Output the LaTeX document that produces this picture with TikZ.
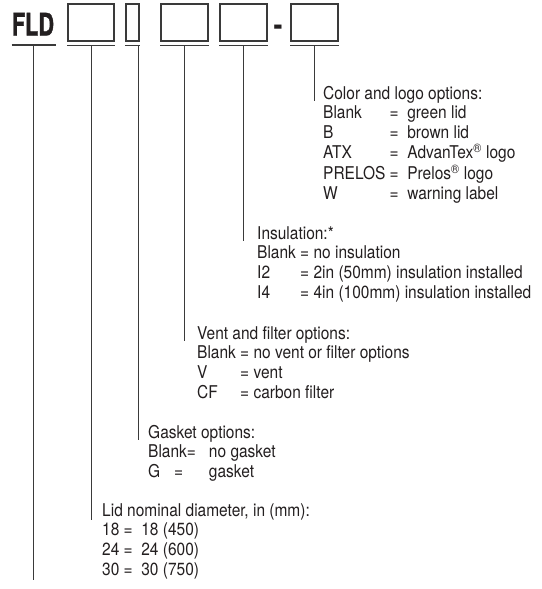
\documentclass[tikz,border=0pt]{standalone}
\usepackage{fontspec}
\setmainfont[FakeStretch=0.88]{TeX Gyre Heros}
\newfontfamily\fldfont[FakeStretch=0.7,BoldFeatures={FakeBold=1.2}]{TeX Gyre Heros}
\usetikzlibrary{positioning,calc}
\definecolor{Ink}{HTML}{231F20}
\definecolor{Rule}{HTML}{3A3A3A}

\begin{document}
\begin{tikzpicture}[x=1pt,y=-1pt,
  slot/.style={draw=Rule,line width=1.1pt,minimum height=37pt,inner sep=0pt},
  under/.style={draw=Rule,line width=1.3pt},
  lead/.style={draw=Rule,line width=1pt},
  legend/.style={anchor=base west,inner sep=0pt,text=Ink,font=\fontsize{17.6}{19.7}\selectfont},
  modelcode/.style={anchor=base,inner sep=0pt,text=Ink,font=\fldfont\fontsize{31}{31}\bfseries}
]
\useasboundingbox (0,0) rectangle (541,589);

\node[modelcode] (fld) at (33,35.5) {FLD};
\node[slot,minimum width=46pt] (b1) at (91,22.5) {};
\node[slot,minimum width=13pt] (b2) at (132.5,22.5) {};
\node[slot,minimum width=47pt] (b3) at (184.5,22.5) {};
\node[slot,minimum width=47pt] (b4) at (243.5,22.5) {};
\node[modelcode,font=\fontsize{30.5}{30.5}\bfseries] (dash) at (278,35) {-};
\node[slot,minimum width=47pt] (b5) at (314.5,22.5) {};

\draw[under] ([yshift=-9.5pt]fld.base west) -- ([yshift=-9.5pt,xshift=2pt]fld.base east);
\foreach \b in {b1,b2,b3,b4,b5}
  \draw[under] ([yshift=-4pt]\b.south west) -- ([yshift=-4pt]\b.south east);

\node[legend] (logo) at (323,99) {\begin{tabular}[t]{@{}l@{\ }l@{\ \ }l@{}}
\multicolumn{3}{@{}l@{}}{Color and logo options:}\\
Blank & = & green lid\\
B & = & brown lid\\
ATX & = & AdvanTex\textsuperscript{\textregistered} logo\\
PRELOS & = & Prelos\textsuperscript{\textregistered} logo\\
W & = & warning label
\end{tabular}};

\node[legend] (ins) at (257,239) {\begin{tabular}[t]{@{}l@{\ }l@{\ }l@{}}
\multicolumn{3}{@{}l@{}}{Insulation:*}\\
Blank & = & no insulation\\
I2 & = & 2in (50mm) insulation installed\\
I4 & = & 4in (100mm) insulation installed
\end{tabular}};

\node[legend] (vent) at (197,339) {\begin{tabular}[t]{@{}l@{\ }l@{\ }l@{}}
\multicolumn{3}{@{}l@{}}{Vent and filter options:}\\
Blank & = & no vent or filter options\\
V & = & vent\\
CF & = & carbon filter
\end{tabular}};

\node[legend] (gsk) at (148,438) {\begin{tabular}[t]{@{}l@{\hspace{13pt}}l@{}}
\multicolumn{2}{@{}l@{}}{Gasket options:}\\
Blank= & no gasket\\
G\hspace{14pt}= & gasket
\end{tabular}};

\node[legend] (lid) at (102,516) {\begin{tabular}[t]{@{}l@{\ }l@{\ \ }l@{}}
\multicolumn{3}{@{}l@{}}{Lid nominal diameter, in (mm):}\\
18 & = & 18 (450)\\
24 & = & 24 (600)\\
30 & = & 30 (750)
\end{tabular}};

\coordinate (tail) at (33,580);
\draw[lead] ([yshift=-9.5pt]fld.base) -- (tail);
\draw[lead] ([yshift=-4pt]b1.south) -- ($(b1.south |- lid.base)+(0,4)$);
\draw[lead] ($(b2.south east)+(-1.5,4)$) -- ($(b2.south east |- gsk.base)+(-1.5,2)$);
\draw[lead] ([yshift=-4pt]b3.south) -- ($(b3.south |- vent.base)+(0,2)$);
\draw[lead] ([yshift=-4pt]b4.south) -- ($(b4.south |- ins.base)+(0,2)$);
\draw[lead] ([yshift=-4pt]b5.south) -- ($(b5.south |- logo.base)+(0,2)$);
\end{tikzpicture}
\end{document}
